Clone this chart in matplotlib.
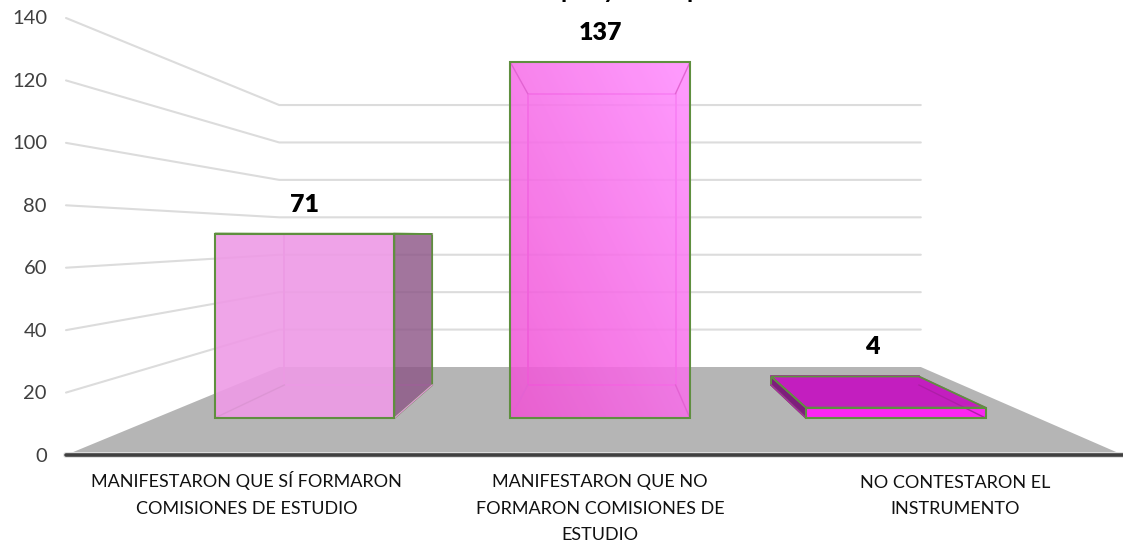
import numpy as np
import matplotlib
matplotlib.use('Agg')
import matplotlib.pyplot as plt
from matplotlib.patches import Polygon

plt.rcParams['font.family'] = ['Lato', 'DejaVu Sans']

categories = ['MANIFESTARON QUE SÍ FORMARON\nCOMISIONES DE ESTUDIO',
              'MANIFESTARON QUE NO\nFORMARON COMISIONES DE\nESTUDIO',
              'NO CONTESTARON EL\nINSTRUMENTO']
values = [71, 137, 4]
yticks = [0, 20, 40, 60, 80, 100, 120, 140]
# only the descenders of the title are inside the picture
title_letters = ['p', 'y', 'p']

# perspective of the fake 3d chart, in pixels of the 1123x540 picture
VX, VY = 608.5, 235.3
Y_ZERO = 219.7
PX_PER_UNIT = 437 / 140
# (scale in x, scale in y) at each depth
S_FRONT, S_BAR_FRONT, S_BAR_BACK, S_BACK = (1, 1), (0.835, 0.8316), (0.6875, 0.6814), (0.607, 0.5995)
WALL_LEFT, FLOOR_RIGHT = -542.5, 514.5
BAR_FIRST, BAR_STEP, BAR_WIDTH = -364, 354, 215
GREEN = '#5F8F3F'


def project(x, value, s):
    return VX + x * s[0], VY + (Y_ZERO - value * PX_PER_UNIT) * s[1]


def face(ax, corners, color, alpha, edge=None, lw=1.0, z=3):
    pts = [project(*c) for c in corners]
    ax.add_patch(Polygon(pts, closed=True, facecolor=color, alpha=alpha, edgecolor='none', zorder=z))
    if edge is not None:
        ax.add_patch(Polygon(pts, closed=True, fill=False, edgecolor=edge, linewidth=lw, zorder=z + 0.5))


def gradient_face(ax, corners, c_low, c_high, alpha, z=3):
    pts = np.array([project(*c) for c in corners])
    g = np.linspace(0, 1, 64)
    gx, gy = np.meshgrid(g, g)
    # first row is the top of the image: light at upper right, dark at lower left
    t = (gx + (1 - gy))[..., None] / 2
    rgba = np.dstack([(np.array(c_low) * (1 - t) + np.array(c_high) * t) / 255, np.full(gx.shape, alpha)])
    im = ax.imshow(rgba, extent=[pts[:, 0].min(), pts[:, 0].max(), pts[:, 1].max(), pts[:, 1].min()],
                   aspect='auto', zorder=z, interpolation='bilinear')
    im.set_clip_path(Polygon(pts, closed=True, transform=ax.transData))


def box(ax, i, value, c):
    l = BAR_FIRST + i * BAR_STEP - BAR_WIDTH / 2
    r = l + BAR_WIDTH
    fr, bk = S_BAR_FRONT, S_BAR_BACK
    # inside lines, seen through the glass
    inner = c['inner']
    face(ax, [(l, 0, bk), (r, 0, bk), (r, value, bk), (l, value, bk)], c['back'], c['back_a'], inner, 1.3, 3)
    face(ax, [(l, 0, fr), (r, 0, fr), (r, 0, bk), (l, 0, bk)], c['back'], c['back_a'], inner, 1.0, 3.1)
    for xe in (l, r):
        for ve in (0, value):
            xs, ys = zip(project(xe, ve, fr), project(xe, ve, bk))
            ax.plot(xs, ys, color=inner, lw=1.0, zorder=4.2)
    # sides
    if l > 0:
        face(ax, [(l, 0, fr), (l, value, fr), (l, value, bk), (l, 0, bk)], c['side'], c['side_a'], GREEN, 1.3, 3.6)
    if r < 0:
        face(ax, [(r, 0, fr), (r, value, fr), (r, value, bk), (r, 0, bk)], c['side'], c['side_a'], GREEN, 1.3, 3.6)
    # top, only really visible when the bar is lower than the eye
    face(ax, [(l, value, fr), (r, value, fr), (r, value, bk), (l, value, bk)], c['top'], c['top_a'], c['top_edge'], 1.3, 3.8)
    # front
    front = [(l, 0, fr), (r, 0, fr), (r, value, fr), (l, value, fr)]
    if 'grad' in c:
        gradient_face(ax, front, c['grad'][0], c['grad'][1], c['front_a'], 4)
    else:
        face(ax, front, c['front'], c['front_a'], None, z=4)
    face(ax, front, 'none', 0, GREEN, 1.5, 4.5)


fig = plt.figure(figsize=(11.23, 5.40), dpi=100)
ax = fig.add_axes([0, 0, 1, 1])

# floor
face(ax, [(WALL_LEFT, 0, S_FRONT), (FLOOR_RIGHT, 0, S_FRONT), (FLOOR_RIGHT, 0, S_BACK), (WALL_LEFT, 0, S_BACK)],
     '#B5B5B5', 1, z=1)

# grid on left wall and back wall
for v in yticks[1:]:
    xs, ys = zip(project(WALL_LEFT, v, S_FRONT), project(WALL_LEFT, v, S_BACK), project(FLOOR_RIGHT, v, S_BACK))
    ax.plot(xs, ys, color='#DCDCDC', lw=1.5, zorder=2, solid_capstyle='round')

# axis line at zero
xs, ys = zip(project(WALL_LEFT, 0, S_FRONT), project(FLOOR_RIGHT, 0, S_FRONT))
ax.plot(xs, ys, color='#E0E0E0', lw=4.2, zorder=2.1, solid_capstyle='round')
ax.plot(xs, ys, color='#404040', lw=2.6, zorder=2.2, solid_capstyle='round')

styles = [
    dict(front='#EE9BE6', front_a=0.9, back='#D890D0', back_a=0.10, inner='#DC96D4', side='#8C5686', side_a=0.8,
         top='#EC95E1', top_a=0.0, top_edge=GREEN),
    dict(grad=[(240, 84, 212), (255, 140, 255)], front_a=0.87, back='#E060D0', back_a=0.06, inner='#E264D2',
         side='#C040B0', side_a=0.3, top='#FF80FF', top_a=0.0, top_edge='none'),
    dict(front='#FF1FF5', front_a=0.95, back='#C31FC0', back_a=0.2, inner='#AE1FA8', side='#7E1D7C', side_a=1,
         top='#C31EBF', top_a=1, top_edge=GREEN),
]
label_shift = [0, 0, -23]

for i, v in enumerate(values):
    box(ax, i, v, styles[i])
    x_mid = BAR_FIRST + i * BAR_STEP
    lx = project(x_mid, v, S_BAR_FRONT)[0] + label_shift[i]
    ly = min(project(x_mid, v, S_BAR_FRONT)[1], project(x_mid, v, S_BAR_BACK)[1]) - 29
    ax.text(lx, ly, str(v), ha='center', va='center', fontsize=18, fontweight='heavy', color='black', zorder=6)

# y tick labels
for v in yticks:
    ax.text(47, project(WALL_LEFT, v, S_FRONT)[1] + 1, str(v), ha='right', va='center', fontsize=14.5, color='#404040')

# category labels, one text per line so the baselines stay the same
for i, cat in enumerate(categories):
    lx = [246.5, 600, 955][i]
    for j, line in enumerate(cat.split('\n')):
        ax.text(lx, 487.5 + j * 26, line, ha='center', va='baseline', fontsize=13, color='#111111')

# title sits above the picture edge, only tails of the letters show
for ch, tx in zip(title_letters, [568, 610, 694]):
    ax.text(tx, -2, ch, ha='center', va='baseline', fontsize=18, fontweight='bold', color='black')

ax.set_xlim(0, 1123)
ax.set_ylim(540, 0)
ax.axis('off')
fig.savefig('out.png', dpi=100)
